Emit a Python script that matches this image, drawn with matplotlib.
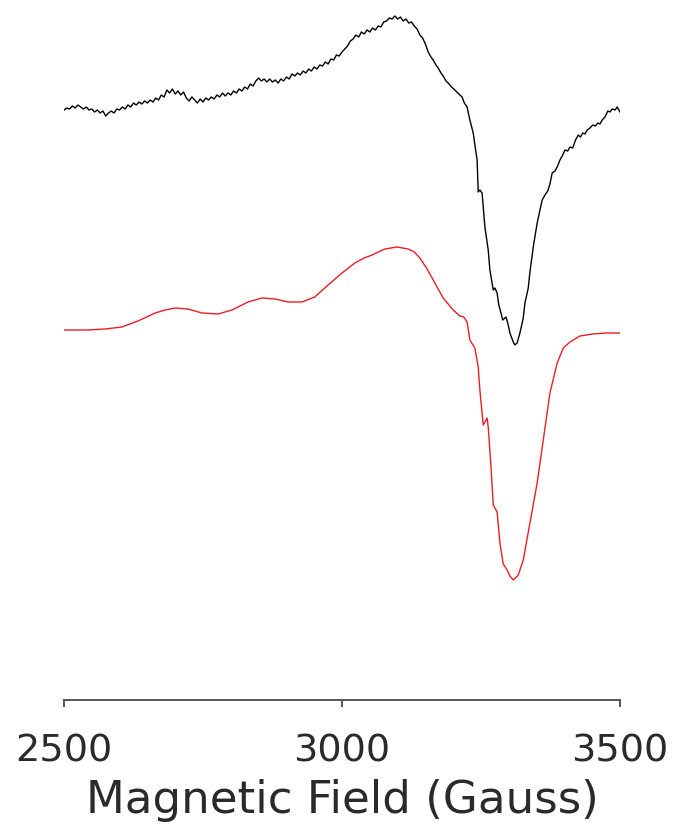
import matplotlib
matplotlib.use("Agg")
import matplotlib.pyplot as plt

# Experimental EPR spectrum (black), field in Gauss, intensity in arbitrary units
exp_field = [2500, 2505, 2510, 2515, 2520, 2525, 2530, 2535, 2540, 2545, 2550, 2555, 2560, 2565,
             2570, 2575, 2580, 2585, 2590, 2595, 2600, 2605, 2610, 2615, 2620, 2625, 2630, 2635,
             2640, 2645, 2650, 2655, 2660, 2665, 2670, 2675, 2680, 2685, 2690, 2695, 2700, 2705,
             2710, 2715, 2720, 2725, 2730, 2735, 2740, 2745, 2750, 2755, 2760, 2765, 2770, 2775,
             2780, 2785, 2790, 2795, 2800, 2805, 2810, 2815, 2820, 2825, 2830, 2835, 2840, 2845,
             2850, 2855, 2860, 2865, 2870, 2875, 2880, 2885, 2890, 2895, 2900, 2905, 2910, 2915,
             2920, 2925, 2930, 2935, 2940, 2945, 2950, 2955, 2960, 2965, 2970, 2975, 2980, 2985,
             2990, 2995, 3000, 3005, 3010, 3015, 3020, 3025, 3030, 3035, 3040, 3045, 3050, 3055,
             3060, 3065, 3070, 3075, 3080, 3085, 3090, 3095, 3100, 3105, 3110, 3115, 3120, 3125,
             3130, 3135, 3140, 3145, 3150, 3155, 3160, 3164, 3169, 3173, 3178, 3182, 3187, 3191,
             3197, 3203, 3210, 3216, 3220, 3225, 3230, 3236, 3239, 3243, 3245, 3248, 3252, 3257,
             3263, 3266, 3272, 3275, 3279, 3282, 3286, 3289, 3295, 3299, 3302, 3308, 3311, 3315,
             3320, 3326, 3329, 3335, 3338, 3344, 3351, 3356, 3360, 3365, 3370, 3374, 3378, 3383,
             3387, 3392, 3397, 3401, 3406, 3410, 3415, 3420, 3425, 3429, 3433, 3437, 3441, 3446,
             3451, 3456, 3460, 3464, 3468, 3473, 3478, 3482, 3486, 3491, 3495, 3500]
exp_signal = [590, 592, 591, 594, 592, 595, 593, 591, 593, 590, 591, 588, 590, 587,
              589, 584, 587, 589, 587, 591, 590, 593, 591, 595, 593, 597, 595, 598,
              596, 599, 597, 600, 598, 602, 600, 605, 603, 610, 607, 611, 606, 609,
              605, 608, 602, 599, 603, 600, 597, 601, 598, 602, 600, 603, 601, 605,
              603, 607, 604, 607, 605, 609, 607, 611, 609, 613, 611, 616, 614, 619,
              622, 619, 621, 618, 621, 618, 620, 617, 621, 619, 623, 621, 626, 624,
              627, 625, 629, 627, 631, 629, 633, 631, 635, 634, 638, 636, 641, 640,
              645, 644, 648, 651, 654, 659, 661, 665, 663, 668, 666, 670, 668, 672,
              670, 674, 673, 678, 679, 682, 681, 684, 681, 683, 679, 681, 677, 678,
              674, 671, 665, 662, 656, 648, 643, 640, 635, 632, 627, 624, 619, 617,
              613, 610, 606, 603, 597, 593, 580, 567, 555, 540, 508, 510, 507, 473,
              450, 430, 410, 412, 407, 395, 387, 380, 383, 375, 367, 358, 355, 357,
              367, 382, 397, 412, 428, 453, 477, 490, 500, 505, 509, 516, 527, 529,
              533, 540, 545, 550, 549, 553, 552, 560, 565, 563, 567, 566, 570, 572,
              575, 574, 577, 576, 580, 583, 589, 588, 591, 590, 593, 588]

# Simulated spectrum (red)
sim_field = [2500, 2543, 2574, 2604, 2633, 2664, 2682, 2700, 2723, 2748, 2777, 2802, 2831,
             2856, 2880, 2903, 2928, 2951, 2975, 3000, 3023, 3040, 3054, 3077, 3099, 3119,
             3130, 3140, 3152, 3164, 3182, 3200, 3212, 3219, 3225, 3230, 3239, 3245, 3248,
             3254, 3261, 3263, 3268, 3272, 3279, 3284, 3290, 3297, 3302, 3308, 3317, 3326,
             3338, 3351, 3362, 3374, 3387, 3398, 3410, 3428, 3451, 3475, 3500]
sim_signal = [370, 370, 371, 373, 379, 387, 390, 392, 391, 387, 386, 390, 398,
              402, 401, 398, 398, 403, 415, 427, 437, 442, 445, 451, 453, 451,
              448, 442, 432, 420, 402, 390, 384, 383, 378, 360, 352, 333, 310,
              275, 282, 273, 233, 195, 188, 157, 136, 130, 124, 120, 125, 140,
              177, 217, 260, 307, 337, 352, 358, 364, 366, 367, 367]

xticks = [2500, 3000, 3500]
xlabel = "Magnetic Field (Gauss)"

fig = plt.figure(figsize=(6.75, 8.31), dpi=100)
ax = fig.add_axes([64 / 675, (831 - 700) / 831, 556 / 675, 690 / 831])

ax.plot(exp_field, exp_signal, color="black", lw=1.0)
ax.plot(sim_field, sim_signal, color="#ee1c25", lw=1.0)

ax.set_xlim(2500, 3500)
ax.set_ylim(0, 690)

for s in ["top", "right", "left"]:
    ax.spines[s].set_visible(False)
ax.spines["bottom"].set_color("#555555")
ax.spines["bottom"].set_linewidth(1.4)
ax.set_yticks([])
ax.set_xticks(xticks)
ax.set_xticklabels([str(t) for t in xticks])
ax.tick_params(axis="x", direction="out", length=5, width=1.4, color="#555555",
               pad=19, labelsize=27.5, labelcolor="#2a2a2a")
for lbl in ax.get_xticklabels():
    lbl.set_fontfamily("DejaVu Sans")
ax.set_xlabel(xlabel, fontsize=32.5, color="#2a2a2a", family="DejaVu Sans", labelpad=7)

fig.savefig("out.png", dpi=100)
